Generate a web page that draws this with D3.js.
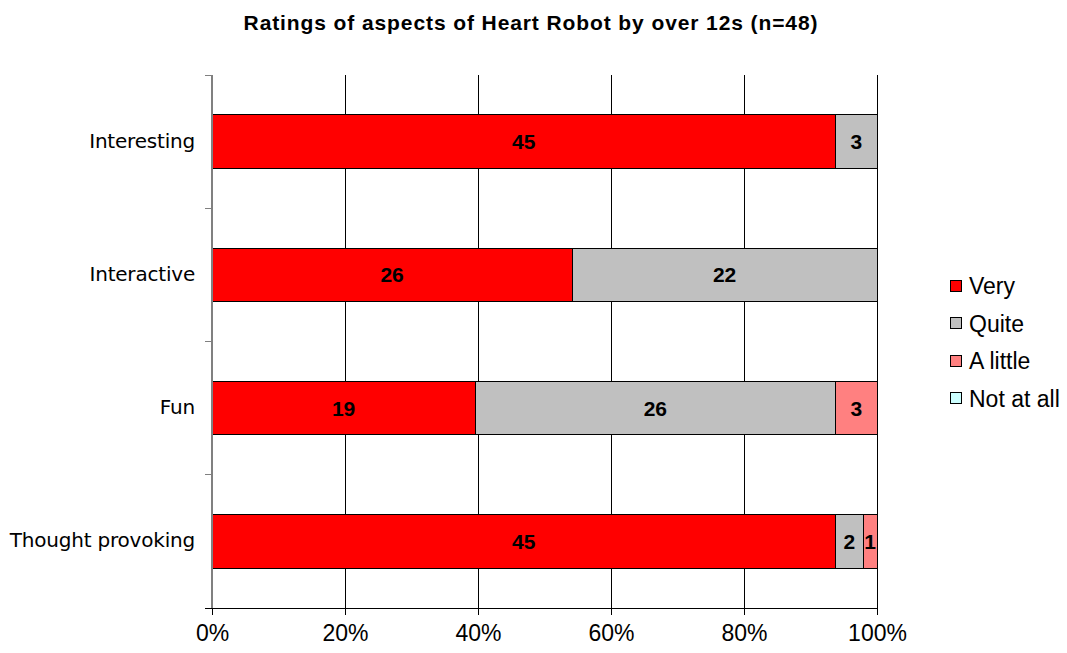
<!DOCTYPE html>
<html>
<head>
<meta charset="utf-8">
<script src="https://cdn.jsdelivr.net/npm/d3@7"></script>
<style>
  body { margin: 0; background: #fff; font-family: "Liberation Sans", Arial, sans-serif; }
</style>
</head>
<body>
<div id="chart"></div>
<script>
var categories = ['Interesting', 'Interactive', 'Fun', 'Thought provoking']
var seriesNames = ['Very', 'Quite', 'A little', 'Not at all']
var very = [45, 26, 19, 45]
var quite = [3, 22, 26, 2]
var aLittle = [0, 0, 3, 1]
var notAtAll = [0, 0, 0, 0]
var colors = ['#ff0000', '#c0c0c0', '#ff8080', '#ccffff']
var xTicks = [0, 0.2, 0.4, 0.6, 0.8, 1]

var width = 1067
var height = 653
var plot = { left: 212, right: 877, top: 75, bottom: 608 }

var svg = d3.select('#chart')
  .append('svg')
  .attr('width', width)
  .attr('height', height)

var x = d3.scaleLinear()
  .domain([0, 1])
  .range([plot.left, plot.right])

var y = d3.scaleBand()
  .domain(categories)
  .range([plot.top, plot.bottom])
  .paddingInner(0.6)
  .paddingOuter(0.3)

// gridlines
svg.append('g')
  .selectAll('line')
  .data(xTicks.slice(1))
  .enter()
  .append('line')
  .attr('x1', d => x(d))
  .attr('x2', d => x(d))
  .attr('y1', plot.top)
  .attr('y2', plot.bottom)
  .attr('stroke', '#000')
  .attr('stroke-width', 1)
  .attr('shape-rendering', 'crispEdges')

// stacked bars
var rows = categories.map((c, i) => {
  var vals = [very[i], quite[i], aLittle[i], notAtAll[i]]
  var total = d3.sum(vals)
  var acc = 0
  return vals.map((v, k) => {
    var seg = { cat: c, v: v, k: k, x0: acc / total, x1: (acc + v) / total }
    acc += v
    return seg
  })
})

var segs = rows.flat().filter(d => d.v > 0)

svg.append('g')
  .selectAll('rect')
  .data(segs)
  .enter()
  .append('rect')
  .attr('x', d => x(d.x0))
  .attr('y', d => y(d.cat))
  .attr('width', d => x(d.x1) - x(d.x0))
  .attr('height', y.bandwidth())
  .attr('fill', d => colors[d.k])
  .attr('stroke', '#000')
  .attr('stroke-width', 1)
  .attr('shape-rendering', 'crispEdges')

svg.append('g')
  .selectAll('text')
  .data(segs)
  .enter()
  .append('text')
  .attr('x', d => (x(d.x0) + x(d.x1)) / 2)
  .attr('y', d => y(d.cat) + y.bandwidth() / 2)
  .attr('dy', '0.36em')
  .attr('text-anchor', 'middle')
  .attr('font-size', 21)
  .attr('font-weight', 'bold')
  .attr('fill', '#000')
  .text(d => d.v)

// left axis (gray) with ticks between categories
var catTicks = d3.range(categories.length + 1).map(i => plot.top + i * (plot.bottom - plot.top) / categories.length)
svg.append('line')
  .attr('x1', plot.left).attr('x2', plot.left)
  .attr('y1', plot.top).attr('y2', plot.bottom)
  .attr('stroke', '#808080')
  .attr('stroke-width', 2)
svg.append('g')
  .selectAll('line')
  .data(catTicks)
  .enter()
  .append('line')
  .attr('x1', plot.left - 7)
  .attr('x2', plot.left)
  .attr('y1', d => d)
  .attr('y2', d => d)
  .attr('stroke', '#808080')
  .attr('stroke-width', 1)
  .attr('shape-rendering', 'crispEdges')

svg.append('g')
  .selectAll('text')
  .data(categories)
  .enter()
  .append('text')
  .attr('x', 195)
  .attr('y', d => y(d) + y.bandwidth() / 2)
  .attr('dy', '0.3em')
  .attr('text-anchor', 'end')
  .attr('font-size', 20)
  .attr('font-family', '"DejaVu Sans", sans-serif')
  .attr('letter-spacing', '-0.2')
  .attr('fill', '#000')
  .text(d => d)

// bottom axis
svg.append('g')
  .attr('transform', 'translate(0,' + plot.bottom + ')')
  .call(d3.axisBottom(x).tickValues(xTicks).tickFormat(d3.format('.0%')).tickSize(7).tickPadding(10))
  .call(g => g.select('.domain').remove())
  .call(g => g.selectAll('.tick text').attr('font-size', 23).attr('font-family', '"Liberation Sans", Arial, sans-serif').attr('fill', '#000'))
  .call(g => g.selectAll('.tick line').attr('stroke', '#000'))

svg.append('line')
  .attr('x1', plot.left - 7).attr('x2', plot.right)
  .attr('y1', plot.bottom).attr('y2', plot.bottom)
  .attr('stroke', '#000')
  .attr('shape-rendering', 'crispEdges')

// legend
var legend = svg.append('g')
  .selectAll('g')
  .data(seriesNames)
  .enter()
  .append('g')
  .attr('transform', (d, i) => 'translate(950,' + (280 + i * 37.5) + ')')
legend.append('rect')
  .attr('width', 11)
  .attr('height', 11)
  .attr('fill', (d, i) => colors[i])
  .attr('stroke', '#000')
  .attr('shape-rendering', 'crispEdges')
legend.append('text')
  .attr('x', 19)
  .attr('y', 6)
  .attr('dy', '0.36em')
  .attr('font-size', 23)
  .attr('fill', '#000')
  .text(d => d)

// title
svg.append('text')
  .attr('x', 531)
  .attr('y', 30)
  .attr('text-anchor', 'middle')
  .attr('font-size', 21)
  .attr('font-weight', 'bold')
  .attr('letter-spacing', '0.9')
  .attr('fill', '#000')
  .text('Ratings of aspects of Heart Robot by over 12s (n=48)')
</script>
</body>
</html>
